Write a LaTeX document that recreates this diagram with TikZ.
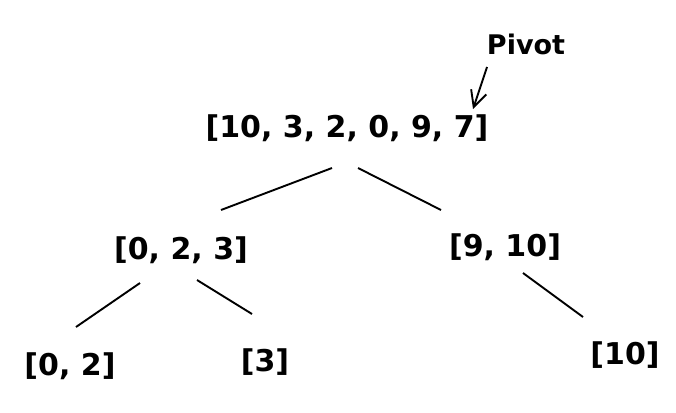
\documentclass[tikz,border=0pt]{standalone}
\usepackage{fontspec}
\setmainfont{DejaVu Sans}
\usepackage{tikz}
\usetikzlibrary{calc,arrows.meta}
\tikzset{
  arr/.style={font=\fontsize{30}{36}\selectfont\bfseries,inner sep=0pt},
  lbl/.style={font=\fontsize{27}{32}\selectfont\bfseries,inner sep=0pt}
}

\begin{document}
\begin{tikzpicture}[x=1pt,y=-1pt,line width=1.9pt,>={Straight Barb[length=16pt,width=16pt]}]
\useasboundingbox (0,0) rectangle (676,412);

% Root list and pivot label
\node[arr] (root) at (347,128) {[10, 3, 2, 0, 9, 7]};
\node[lbl] (pivot) at (526,44) {Pivot};
\draw[->] ($(pivot)+(-39,23)$) to ($(root)+(126,-19)$);

% First split
\node[arr] (left) at (181,250) {[0, 2, 3]};
\node[arr] (right) at (505,247) {[9, 10]};
\draw ($(root)+(-15,40)$) to ($(left)+(40,-40)$);
\draw ($(root)+(11,40)$) to ($(right)+(-64,-37)$);

% Second split
\node[arr] (ll) at (70,366) {[0, 2]};
\node[arr] (lr) at (265,362) {[3]};
\node[arr] (rr) at (625,355) {[10]};
\draw ($(left)+(-41,33)$) to ($(ll)+(6,-39)$);
\draw ($(left)+(16,30)$) to ($(lr)+(-13,-48)$);
\draw ($(right)+(18,26)$) to ($(rr)+(-42,-38)$);
\end{tikzpicture}
\end{document}
